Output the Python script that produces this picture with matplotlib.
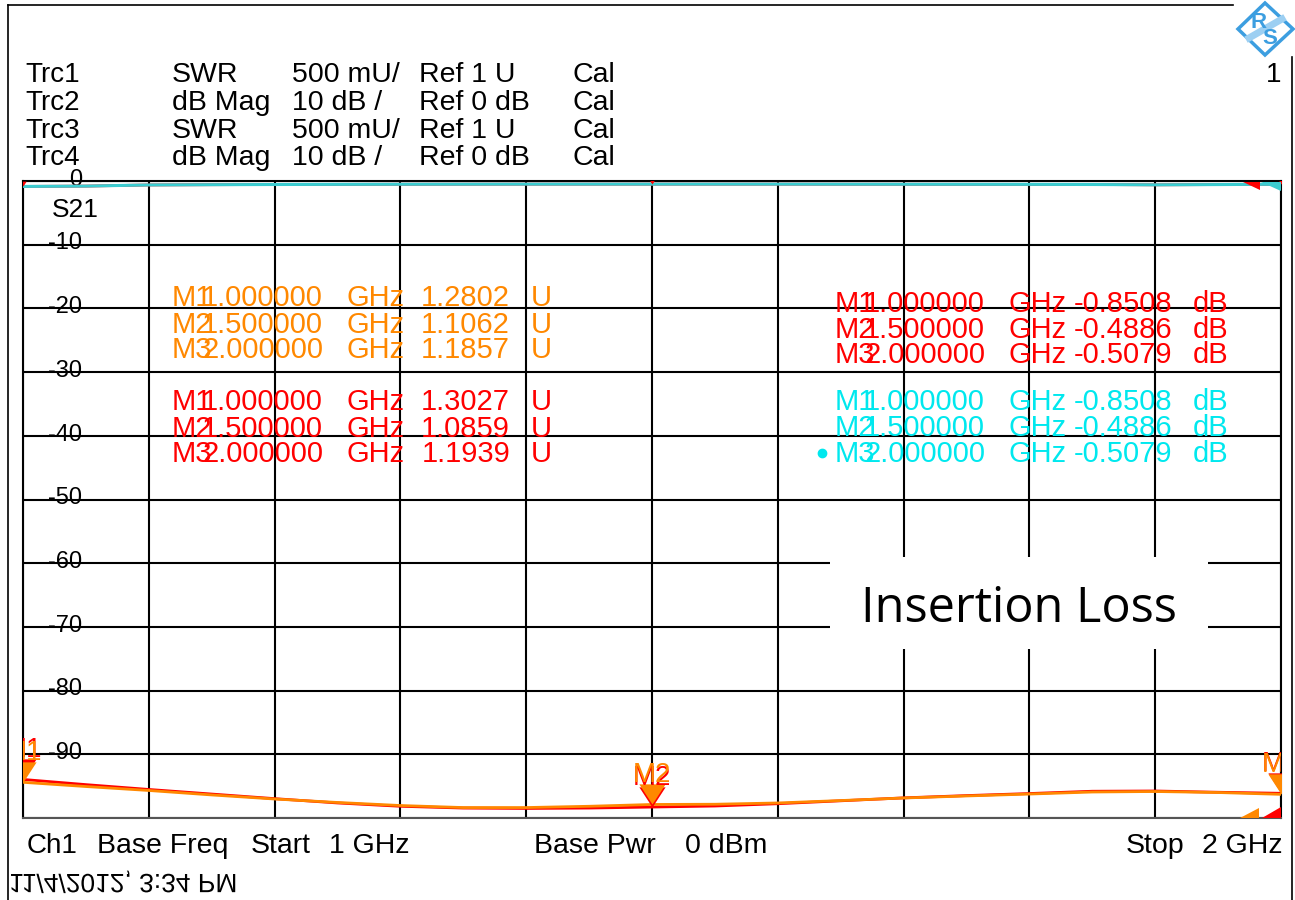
import numpy as np
import matplotlib
matplotlib.use("Agg")
import matplotlib.pyplot as plt
from matplotlib.patches import Polygon, Rectangle
from matplotlib.lines import Line2D
from matplotlib.path import Path
from matplotlib.patheffects import AbstractPathEffect
from matplotlib.transforms import Affine2D, blended_transform_factory

# ---------------- data ----------------
freq_ghz = [1.00, 1.05, 1.10, 1.15, 1.20, 1.25, 1.30, 1.35, 1.40, 1.45, 1.50,
            1.55, 1.60, 1.65, 1.70, 1.75, 1.80, 1.85, 1.90, 1.95, 2.00]
swr_orange = [1.2802, 1.247, 1.216, 1.181, 1.149, 1.122, 1.098, 1.082, 1.082, 1.092, 1.1062,
              1.108, 1.118, 1.137, 1.157, 1.173, 1.188, 1.204, 1.208, 1.200, 1.1857]
swr_red = [1.3027, 1.262, 1.224, 1.188, 1.152, 1.118, 1.092, 1.078, 1.075, 1.078, 1.0859,
           1.094, 1.112, 1.135, 1.158, 1.176, 1.192, 1.210, 1.212, 1.202, 1.1939]
db_red = [-0.8508, -0.80, -0.62, -0.58, -0.55, -0.53, -0.51, -0.50, -0.49, -0.49, -0.4886,
          -0.49, -0.49, -0.50, -0.51, -0.52, -0.53, -0.55, -0.60, -0.56, -0.5079]
db_cyan = [-0.8508, -0.80, -0.62, -0.58, -0.55, -0.53, -0.51, -0.50, -0.49, -0.49, -0.4886,
           -0.49, -0.49, -0.50, -0.51, -0.52, -0.53, -0.55, -0.60, -0.56, -0.5079]

marker_names = ["M1", "M2", "M3"]
marker_freq = [1.0, 1.5, 2.0]
marker_freq_txt = ["1.000000", "1.500000", "2.000000"]
mk_swr_orange = [1.2802, 1.1062, 1.1857]
mk_swr_red = [1.3027, 1.0859, 1.1939]
mk_db_red = [-0.8508, -0.4886, -0.5079]
mk_db_cyan = [-0.8508, -0.4886, -0.5079]

trc_names = ["Trc1", "Trc2", "Trc3", "Trc4"]
trc_formats = ["SWR", "dB Mag", "SWR", "dB Mag"]
trc_scales = ["500 mU/", "10 dB /", "500 mU/", "10 dB /"]
trc_refs = ["Ref 1 U", "Ref 0 dB", "Ref 1 U", "Ref 0 dB"]
trc_cal = ["Cal", "Cal", "Cal", "Cal"]

y_tick_vals = [0, -10, -20, -30, -40, -50, -60, -70, -80, -90]

ORANGE = "#FF8800"
RED = "#FF0000"
CYAN_TXT = "#00E8EE"
CYAN_TRC = "#3CCCD0"

W, H = 1295, 900
def fx(x):
    return x / W
def fy(y):
    return 1 - y / H

plt.rcParams["font.family"] = ["Liberation Sans", "DejaVu Sans"]

fig = plt.figure(figsize=(W / 100, H / 100), dpi=100)
fig.patch.set_facecolor("white")

# ---------------- axes ----------------
ax = fig.add_axes([fx(23), fy(818), (1281 - 23) / W, (818 - 181) / H])
ax.set_xlim(1, 2)
ax.set_ylim(-100, 0)
ax.set_xticks(np.linspace(1, 2, 11))
ax.set_yticks(np.linspace(-100, 0, 11))
ax.tick_params(length=0, labelbottom=False, labelleft=False)
ax.grid(True, color="black", lw=1.5)
ax.set_axisbelow(True)
for s in ax.spines.values():
    s.set_color("black")
    s.set_linewidth(1.5)
ax.spines["bottom"].set_color("#555555")

ax2 = ax.twinx()
ax2.set_ylim(1, 6)
ax2.set_yticks([])
ax2.tick_params(length=0)
for s in ax2.spines.values():
    s.set_visible(False)

# traces
ax.plot(freq_ghz, db_red, color=RED, lw=2.0, zorder=3)
ax.plot(freq_ghz, db_cyan, color=CYAN_TRC, lw=2.2, zorder=3)
ax2.plot(freq_ghz, swr_red, color=RED, lw=2.0, zorder=3)
ax2.plot(freq_ghz, swr_orange, color=ORANGE, lw=2.0, zorder=3)

tri = Path([(0, 0), (-0.65, 1), (0.65, 1), (0, 0)],
           [Path.MOVETO, Path.LINETO, Path.LINETO, Path.CLOSEPOLY])
ax2.plot(marker_freq, mk_swr_red, ls="none", marker=tri, ms=29, color=RED, mec="none", zorder=4)
ax2.plot(marker_freq, mk_swr_orange, ls="none", marker=tri, ms=29, color=ORANGE, mec="none", zorder=4)
ax.plot(marker_freq, mk_db_red, ls="none", marker=tri, ms=7, color=RED, mec="none", zorder=4)

for f, v, nm in zip(marker_freq, mk_swr_red, marker_names):
    ax2.annotate(nm, xy=(f, v), xytext=(0, 16), textcoords="offset points",
                 ha="center", va="baseline", color=RED, fontsize=20,
                 clip_on=True, annotation_clip=False, zorder=5)
for f, v, nm in zip(marker_freq, mk_swr_orange, marker_names):
    ax2.annotate(nm, xy=(f, v), xytext=(0, 16), textcoords="offset points",
                 ha="center", va="baseline", color=ORANGE, fontsize=20,
                 clip_on=True, annotation_clip=False, zorder=5)

# y tick labels drawn inside plot
bt = blended_transform_factory(ax.transAxes, ax.transData)
for v in y_tick_vals:
    ax.text((82 - 23) / 1258, v + 0.2, f"{v}", transform=bt, ha="right", va="center",
            fontsize=17, color="black", zorder=2.5)

# corner indicator shapes
def fpoly(pts, color):
    fig.add_artist(Polygon([(fx(a), fy(b)) for a, b in pts], closed=True,
                           transform=fig.transFigure, facecolor=color, edgecolor="none", zorder=6))
fpoly([(1243, 182), (1260, 182), (1260, 190)], RED)
fpoly([(1261, 182), (1281, 182), (1281, 191)], CYAN_TRC)
fpoly([(1240, 818), (1259, 818), (1259, 808)], ORANGE)
fpoly([(1262, 818), (1281, 818), (1281, 807)], RED)

# ---------------- header text ----------------
hdr_base = [82, 110, 137.5, 165]
for i in range(4):
    b = fy(hdr_base[i])
    fig.text(fx(25), b, trc_names[i], fontsize=20, va="baseline")
    fig.text(fx(172), b, trc_formats[i], fontsize=20.5, va="baseline")
    fig.text(fx(292), b, trc_scales[i], fontsize=20.5, va="baseline")
    fig.text(fx(419), b, trc_refs[i], fontsize=20.5, va="baseline")
    fig.text(fx(573), b, trc_cal[i], fontsize=20.5, va="baseline")
fig.text(fx(1281), fy(82), "1", fontsize=20, va="baseline", ha="right")

fig.text(fx(52), fy(217), "S21", fontsize=19, va="baseline", zorder=6)

# ---------------- marker readouts ----------------
def readout(x0, baselines, values, unit, color, freq_right, ghz_x, val_right, unit_x):
    for i in range(3):
        b = fy(baselines[i])
        fig.text(fx(x0), b, marker_names[i], fontsize=21, va="baseline", color=color, zorder=6)
        fig.text(fx(freq_right), b, marker_freq_txt[i], fontsize=21, va="baseline",
                 ha="right", color=color, zorder=6)
        fig.text(fx(ghz_x), b, "GHz", fontsize=21, va="baseline", color=color, zorder=6)
        fig.text(fx(val_right), b, values[i], fontsize=21, va="baseline",
                 ha="right", color=color, zorder=6)
        fig.text(fx(unit_x), b, unit, fontsize=21, va="baseline", color=color, zorder=6)

readout(172, [306, 332.7, 358], [f"{v:.4f}" for v in mk_swr_orange], "U", ORANGE, 323, 346, 510, 531)
readout(172, [410, 436.7, 462], [f"{v:.4f}" for v in mk_swr_red], "U", RED, 323, 346, 510, 531)
readout(835, [311.7, 338, 363], [f"{v:.4f}" for v in mk_db_red], "dB", RED, 985, 1009, 1172, 1193)
readout(835, [410, 436.5, 462], [f"{v:.4f}" for v in mk_db_cyan], "dB", CYAN_TXT, 985, 1009, 1172, 1193)
fig.add_artist(Line2D([fx(822)], [fy(453)], marker="o", ms=6, color=CYAN_TXT,
                      transform=fig.transFigure, zorder=6))

# ---------------- footer text ----------------
fb = fy(853)
fig.text(fx(27), fb, "Ch1", fontsize=20, va="baseline")
fig.text(fx(97), fb, "Base Freq", fontsize=20.5, va="baseline")
fig.text(fx(251), fb, "Start", fontsize=20.5, va="baseline")
fig.text(fx(329), fb, "1 GHz", fontsize=20.5, va="baseline")
fig.text(fx(534), fb, "Base Pwr", fontsize=20.5, va="baseline")
fig.text(fx(685), fb, "0 dBm", fontsize=20.5, va="baseline")
fig.text(fx(1126), fb, "Stop", fontsize=20.5, va="baseline")
fig.text(fx(1282), fb, "2 GHz", fontsize=20.5, va="baseline", ha="right")


class VFlip(AbstractPathEffect):
    """Mirror glyphs vertically about half the cap height (text stays real text)."""
    def __init__(self, ymid=36):
        super().__init__()
        self.ymid = ymid

    def draw_path(self, renderer, gc, tpath, affine, rgbFace=None):
        flip = Affine2D().translate(0, -self.ymid).scale(1, -1).translate(0, self.ymid)
        renderer.draw_path(gc, tpath, flip + affine, rgbFace)


fig.text(fx(9), fy(893), "11/4/2012, 3:34 PM", fontsize=19, va="baseline",
         path_effects=[VFlip()])

# ---------------- Insertion Loss box ----------------
fig.add_artist(Rectangle((fx(830), fy(649)), (1208 - 830) / W, (649 - 557) / H,
                         transform=fig.transFigure, facecolor="white", edgecolor="none", zorder=7))
fig.text(fx(1019), fy(622), "Insertion Loss", fontsize=35, family="Open Sans",
         ha="center", va="baseline", zorder=8)

# ---------------- frame lines ----------------
fig.add_artist(Line2D([fx(8), fx(1233)], [fy(5), fy(5)], color="black", lw=1.2, transform=fig.transFigure))
fig.add_artist(Line2D([fx(8), fx(8)], [fy(5), fy(900)], color="black", lw=1.2, transform=fig.transFigure))
fig.add_artist(Line2D([fx(1292), fx(1292)], [fy(57), fy(900)], color="black", lw=1.2, transform=fig.transFigure))

# ---------------- logo ----------------
LOGO = "#3C9EE0"
fig.add_artist(Polygon([(fx(1238), fy(29)), (fx(1265), fy(3)), (fx(1293), fy(29)), (fx(1265), fy(55))],
                       closed=True, transform=fig.transFigure, facecolor="white",
                       edgecolor=LOGO, lw=2.5, zorder=6))
fig.add_artist(Line2D([fx(1249), fx(1282)], [fy(38), fy(19)], color="#9CCFF2", lw=5,
                      transform=fig.transFigure, zorder=6))
fig.text(fx(1259), fy(22), "R", fontsize=16, color=LOGO, ha="center", va="center",
         weight="bold", zorder=7)
fig.text(fx(1270), fy(38), "S", fontsize=16, color=LOGO, ha="center", va="center",
         weight="bold", zorder=7)

fig.savefig("out.png", dpi=100, facecolor="white")
